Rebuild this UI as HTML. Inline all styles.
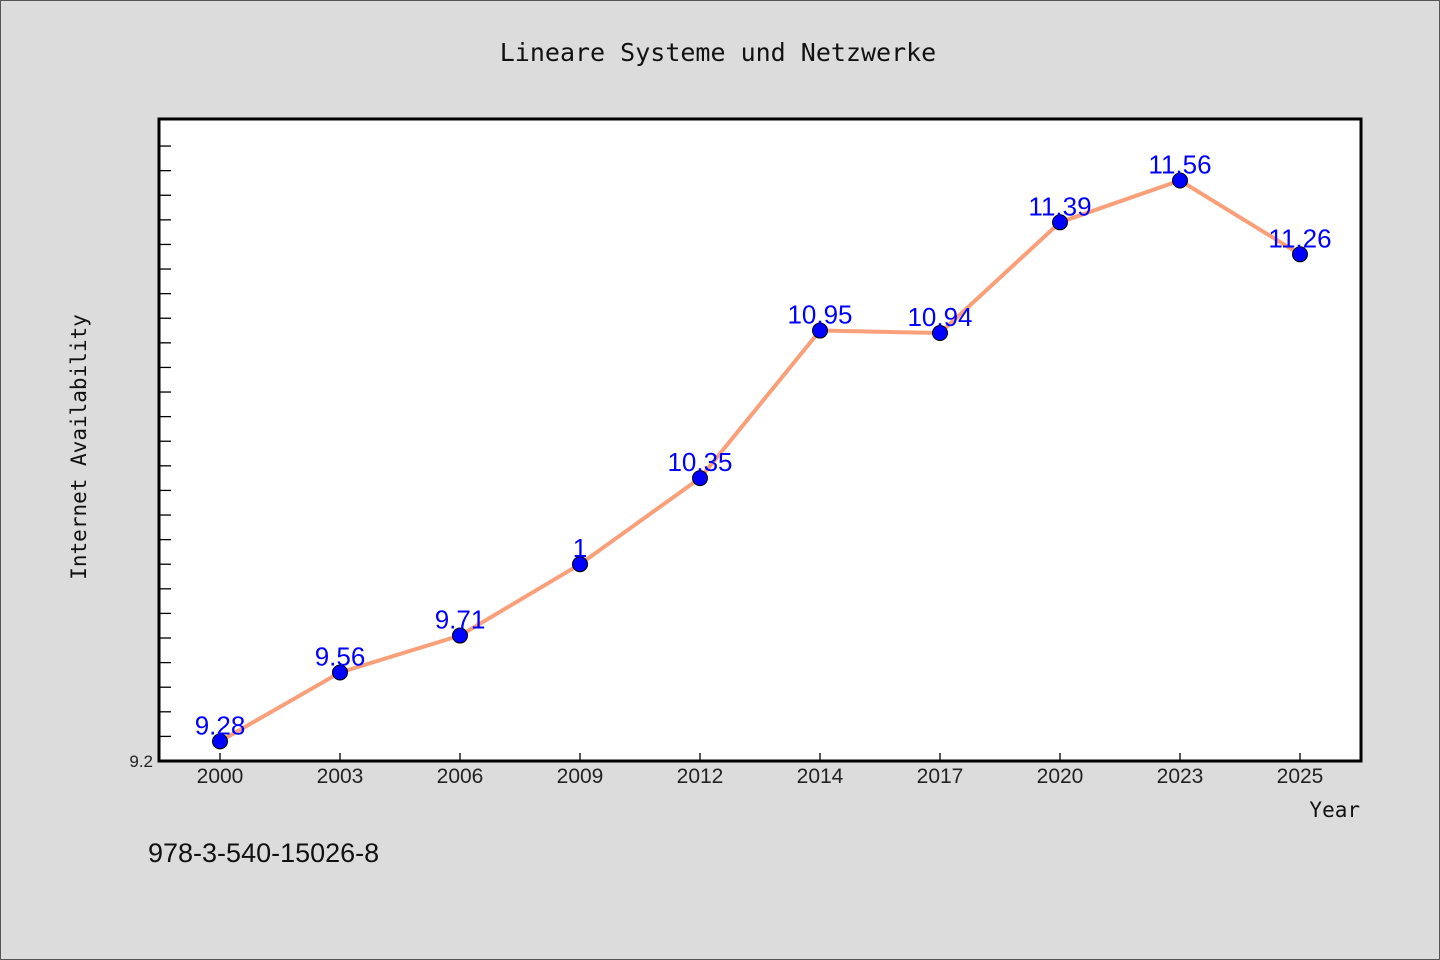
<!DOCTYPE html>
<html><head><meta charset="utf-8"><style>
body{margin:0;background:#dcdcdc;}
svg{display:block;font-family:"WenQuanYi Zen Hei","Liberation Sans",sans-serif;}
</style></head><body>
<svg id="c" width="1440" height="960">
<rect x="0.5" y="0.5" width="1439" height="959" fill="#dcdcdc" stroke="#555"/>
<text x="718" y="61" text-anchor="middle" font-size="25" font-family="DejaVu Sans Mono, monospace" fill="#111">Lineare Systeme und Netzwerke</text>
<rect x="159" y="119" width="1202" height="642" fill="#fff" stroke="#000" stroke-width="3"/>
<g id="ticks"></g>
<g id="series"></g>
<text x="86" y="447" transform="rotate(-90 86 447)" text-anchor="middle" font-size="21" font-family="DejaVu Sans Mono, monospace" fill="#111">Internet Availability</text>
<text x="1360" y="817" text-anchor="end" font-size="21" font-family="DejaVu Sans Mono, monospace" fill="#111">Year</text>
<text x="148" y="862" font-size="27" fill="#111">978-3-540-15026-8</text>
</svg>
<script>
const categories=["2000","2003","2006","2009","2012","2014","2017","2020","2023","2025"];
const values=[9.28,9.56,9.71,10.0,10.35,10.95,10.94,11.39,11.56,11.26];
const valueLabels=["9.28","9.56","9.71","1","10.35","10.95","10.94","11.39","11.56","11.26"];
const yMin=9.2,yMax=11.81;
const NS="http://www.w3.org/2000/svg";
const x=i=>220+i*120;
const y=v=>761-(v-yMin)*(642/(yMax-yMin));
function mk(t,a,p){const e=document.createElementNS(NS,t);for(const k in a)e.setAttribute(k,a[k]);p.appendChild(e);return e;}
const tk=document.getElementById('ticks');
for(let k=1;k<=25;k++){const v=yMin+k*0.1;const l=mk('line',{x1:160,x2:171,y1:y(v),y2:y(v),stroke:'#000','stroke-width':1.3},tk);

}
const yl=mk('text',{x:153,y:767,'text-anchor':'end','font-size':17,fill:'#222'},tk);yl.textContent=yMin.toFixed(1);


categories.forEach((c,i)=>{const l=mk('line',{x1:x(i),x2:x(i),y1:760,y2:753,stroke:'#000','stroke-width':1.3},tk);


const t=mk('text',{x:x(i),y:783,'text-anchor':'middle','font-size':21,fill:'#222'},tk);t.textContent=c;

});
const s=document.getElementById('series');
const ln=mk('polyline',{points:values.map((v,i)=>x(i)+','+y(v)).join(' '),fill:'none',stroke:'#f9a07a','stroke-width':4},s);


values.forEach((v,i)=>{const c=mk('circle',{cx:x(i),cy:y(v),r:7.5,fill:'#0000ff',stroke:'#000','stroke-width':1},s);


const t=mk('text',{x:x(i),y:y(v)-7,'text-anchor':'middle','font-size':26,fill:'#0000ff'},s);t.textContent=valueLabels[i];

});
</script>
</body></html>
